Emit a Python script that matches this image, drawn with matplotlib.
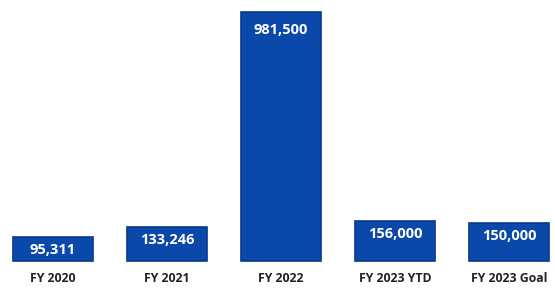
# Fiscal year totals bar chart

import numpy as np
import matplotlib.pyplot as plt

# Data
categories = ['FY 2020', 'FY 2021', 'FY 2022', 'FY 2023 YTD', 'FY 2023 Goal']
values = [95311, 133246, 981500, 156000, 150000]
value_labels = ['95,311', '133,246', '981,500', '156,000', '150,000']

fig = plt.figure(figsize=(5.55, 2.89), dpi=100)
ax = fig.add_axes([0, 0, 1, 1])

x = np.arange(len(categories))
bars = ax.bar(x, values, width=0.70, color='#0a48aa', edgecolor='#083a8c', linewidth=1.2)

# map data to pixels: bar 0 center at 53px, 114px between bars,
# baseline 28px from bottom, top of tallest bar 12px from top
px_per_unit = 249 / values[2]
ax.set_xlim(-53 / 114, (555 - 53) / 114)
ax.set_ylim(-28 / px_per_unit, values[2] + 12 / px_per_unit)
ax.axis('off')

for i, (v, lab) in enumerate(zip(values, value_labels)):
    off = -18 if v == max(values) else -13
    ax.annotate(lab, xy=(i, v), xytext=(0, off), textcoords='offset pixels',
                ha='center', va='center', color='white', fontsize=10.5,
                fontweight='bold', family='Open Sans')
    ax.annotate(categories[i], xy=(i, 0), xytext=(0, -17), textcoords='offset pixels',
                ha='center', va='center', color='#222222', fontsize=8.8,
                fontweight='bold', family='Open Sans')

fig.savefig('out.png', dpi=100)
